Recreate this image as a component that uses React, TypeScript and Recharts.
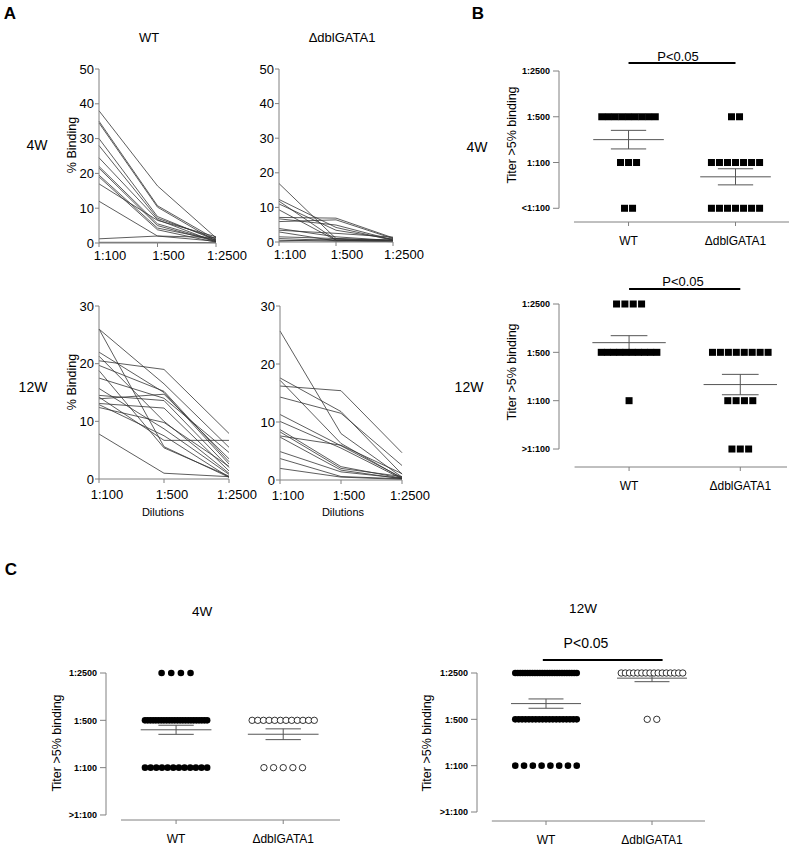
import React from "react";
import {
  LineChart,
  Line,
  XAxis,
  YAxis,
  ScatterChart,
  Scatter,
  ReferenceLine,
} from "recharts";

const FONT = "'Liberation Sans', Arial, sans-serif";
const AXIS = "#808080";

// Panel A: % binding of each mouse at the three dilutions
const dilutions = ["1:100", "1:500", "1:2500"];
const wt4w = [
  [38, 16.4, 1.5], [35, 10.7, 1.0], [34.5, 10.3, 0.5], [30, 7.6, 0.8],
  [28, 7.1, 1.2], [24.5, 6.7, 0.3], [22, 5.5, 0.6], [21.5, 5.0, 0.4],
  [19.5, 4.3, 0.9], [19, 3.8, 0.2], [17, 6.5, 1.8], [12, 2.0, 0.5],
  [1.2, 2.0, 1.6], [0.2, 0.2, 0.1],
];
const dbl4w = [
  [16.9, 1.0, 0.3], [12.3, 4.2, 0.5], [11.8, 0.6, 0.2], [11.0, 3.4, 0.8],
  [9.3, 0.5, 0.1], [7.1, 6.9, 1.2], [6.7, 4.9, 0.6], [5.9, 6.4, 1.0],
  [3.9, 1.5, 0.4], [3.4, 2.5, 1.4], [2.9, 0.3, 0.2], [1.5, 1.0, 0.5],
  [1.0, 0.4, 0.1], [0.5, 0.2, 0.9], [0.2, 0.8, 0.3],
];
const wt12w = [
  [26, 16.5, 5.5], [26, 5.6, 0.3], [22, 15, 2.6], [21.3, 10, 1],
  [20.5, 19, 7.9], [19.7, 15.2, 3], [18.8, 5.4, 0.5], [17.5, 14, 4.6],
  [15.7, 8.7, 0.8], [14.5, 13.6, 2], [14.2, 6.7, 6.7], [13.9, 14.7, 3.5],
  [13.1, 12.3, 1.4], [12.9, 7.5, 0.3], [12.4, 9.8, 2.2], [7.8, 1, 0.4],
];
const dbl12w = [
  [25.7, 8, 0.5], [17.6, 11.8, 1], [17.2, 6.3, 0.3], [16.2, 15.4, 4.7],
  [14.3, 11.5, 2.5], [11.3, 5.9, 0.4], [10.1, 5.5, 0.2], [8.7, 2.3, 0.3],
  [8.3, 2.0, 0.6], [7.6, 6.0, 1.1], [7.4, 1.7, 0.2], [4.9, 1.4, 0.3],
  [3.7, 0.6, 0.2], [2.0, 0.5, 0.1],
];

// Panels B, C: number of mice at each titer level (lowest .. 1:2500)
const groups = ["WT", "\u0394dblGATA1"];
const titerB4 = ["<1:100", "1:100", "1:500", "1:2500"];
const titerOther = [">1:100", "1:100", "1:500", "1:2500"];
const bWT4 = [2, 3, 9, 0];
const bDbl4 = [7, 7, 2, 0];
const bWT12 = [0, 1, 10, 4];
const bDbl12 = [3, 4, 8, 0];
const cWT4 = [0, 12, 24, 4];
const cDbl4 = [0, 5, 12, 0];
const cWT12 = [0, 8, 19, 26];
const cDbl12 = [0, 0, 2, 16];

const Txt = ({ x, y, size, bold, rotate, children }: any) => (
  <div
    style={{
      position: "absolute",
      left: x,
      top: y,
      transform: `translate(-50%, -50%)${rotate ? " rotate(-90deg)" : ""}`,
      fontSize: size,
      fontWeight: bold ? 700 : 400,
      fontFamily: FONT,
      whiteSpace: "nowrap",
      lineHeight: 1,
      color: "#000",
    }}
  >
    {children}
  </div>
);

function BindingPanel({ left, top, w, h, yMax, series, tickMargin, dx }: any) {
  const data = dilutions.map((_, i) => {
    const row: any = { i };
    series.forEach((s: number[], j: number) => (row["m" + j] = s[i]));
    return row;
  });
  const yTicks: number[] = [];
  for (let v = 0; v <= yMax; v += 10) yTicks.push(v);
  const ML = 40, MT = 10, MR = 40, XH = 30;
  return (
    <div style={{ position: "absolute", left: left - ML, top: top - MT }}>
      <LineChart
        width={ML + w + MR}
        height={MT + h + XH}
        data={data}
        margin={{ top: MT, right: MR, bottom: 0, left: 0 }}
      >
        <XAxis
          dataKey="i"
          type="number"
          domain={[0, 2]}
          ticks={[0, 1, 2]}
          interval={0}
          tickFormatter={(v) => dilutions[v]}
          height={XH}
          stroke={AXIS}
          tickSize={4}
          tickMargin={tickMargin}
          tick={{ fill: "#000", fontSize: 13, fontFamily: FONT, dx }}
        />
        <YAxis
          type="number"
          domain={[0, yMax]}
          ticks={yTicks}
          interval={0}
          width={ML}
          stroke={AXIS}
          tickSize={4}
          tickMargin={1}
          tick={{ fill: "#000", fontSize: 13, fontFamily: FONT }}
        />
        {series.map((_: any, j: number) => (
          <Line
            key={j}
            dataKey={"m" + j}
            type="linear"
            stroke="#333"
            strokeWidth={0.8}
            dot={false}
            isAnimationActive={false}
          />
        ))}
      </LineChart>
    </div>
  );
}

const square = (p: any) => (
  <rect x={p.cx - 3.5} y={p.cy - 3.5} width={7} height={7} fill="#000" />
);
const dot = (p: any) => <circle cx={p.cx} cy={p.cy} r={3.3} fill="#000" />;
const ring = (p: any) => (
  <circle cx={p.cx} cy={p.cy} r={3.2} fill="#fff" stroke="#000" strokeWidth={0.8} />
);

function spread(counts: number[], gi: number, step: number, maxSpan: number) {
  const pts: { x: number; y: number }[] = [];
  counts.forEach((n, level) => {
    const s = n > 1 ? Math.min(step, maxSpan / (n - 1)) : 0;
    for (let k = 0; k < n; k++) pts.push({ x: gi + (k - (n - 1) / 2) * s, y: level });
  });
  return pts;
}

function meanSem(counts: number[]) {
  const vals: number[] = [];
  counts.forEach((n, level) => {
    for (let k = 0; k < n; k++) vals.push(level);
  });
  const m = vals.reduce((a, b) => a + b, 0) / vals.length;
  const v = vals.reduce((a, b) => a + (b - m) * (b - m), 0) / (vals.length - 1);
  return { m, sem: Math.sqrt(v) / Math.sqrt(vals.length) };
}

function DotPlot({
  left, top, w, h, xMin, xMax, yMin, sets, shapes, labels, step, maxSpan, pBar,
}: any) {
  const ML = 60, MT = 30, MR = 12, XH = 35;
  const seg = (x1: number, y1: number, x2: number, y2: number, key: string, stroke = "#555", sw = 1) => (
    <ReferenceLine
      key={key}
      segment={[{ x: x1, y: y1 }, { x: x2, y: y2 }]}
      stroke={stroke}
      strokeWidth={sw}
      ifOverflow="visible"
    />
  );
  return (
    <div style={{ position: "absolute", left: left - ML, top: top - MT }}>
      <ScatterChart
        width={ML + w + MR}
        height={MT + h + XH}
        margin={{ top: MT, right: MR, bottom: 0, left: 0 }}
      >
        <XAxis
          dataKey="x"
          type="number"
          domain={[xMin, xMax]}
          ticks={[0, 1]}
          interval={0}
          tickFormatter={(v) => groups[v]}
          height={XH}
          axisLine={false}
          stroke={AXIS}
          tickSize={4}
          tickMargin={10}
          tick={{ fill: "#000", fontSize: 12, fontFamily: FONT }}
        />
        <YAxis
          dataKey="y"
          type="number"
          domain={[yMin, 3]}
          ticks={[0, 1, 2, 3]}
          interval={0}
          tickFormatter={(v) => labels[v]}
          width={ML}
          axisLine={false}
          stroke={AXIS}
          tickSize={6}
          tickMargin={3}
          tick={{ fill: "#000", fontSize: 9, fontWeight: 700, fontFamily: FONT }}
        />
        {seg(xMin, 0, xMin, 3, "yaxis", AXIS)}
        {seg(xMin + 0.14, yMin, xMax, yMin, "xaxis", AXIS)}
        {sets.map((counts: number[], gi: number) => (
          <Scatter
            key={gi}
            data={spread(counts, gi, step, maxSpan)}
            shape={shapes[gi]}
            isAnimationActive={false}
          />
        ))}
        {sets.map((counts: number[], gi: number) => {
          const { m, sem } = meanSem(counts);
          return [
            seg(gi - 0.33, m, gi + 0.33, m, "m" + gi),
            seg(gi - 0.165, m + sem, gi + 0.165, m + sem, "t" + gi),
            seg(gi - 0.165, m - sem, gi + 0.165, m - sem, "b" + gi),
            seg(gi, m - sem, gi, m + sem, "v" + gi),
          ];
        })}
        {pBar && seg(pBar[0], pBar[2], pBar[1], pBar[2], "p", "#000", 2)}
      </ScatterChart>
    </div>
  );
}

export default function App() {
  return (
    <div
      style={{
        position: "absolute",
        left: 0,
        top: 0,
        width: 800,
        height: 849,
        background: "#fff",
        fontFamily: FONT,
      }}
    >
      {/* Panel A */}
      <Txt x={10} y={13} size={17} bold>A</Txt>
      <Txt x={149} y={37} size={13}>WT</Txt>
      <Txt x={342} y={37} size={13}>{"\u0394dblGATA1"}</Txt>
      <Txt x={37} y={145} size={14}>4W</Txt>
      <Txt x={33} y={387} size={14}>12W</Txt>
      <Txt x={72} y={145} size={12.5} rotate>% Binding</Txt>
      <Txt x={72} y={382} size={12.5} rotate>% Binding</Txt>
      <Txt x={163} y={512} size={11}>Dilutions</Txt>
      <Txt x={343} y={512} size={11}>Dilutions</Txt>
      <BindingPanel left={99} top={69} w={117} h={174} yMax={50} series={wt4w} tickMargin={4} dx={11} />
      <BindingPanel left={279} top={69} w={114} h={173} yMax={50} series={dbl4w} tickMargin={4} dx={11} />
      <BindingPanel left={99} top={306} w={130} h={173} yMax={30} series={wt12w} tickMargin={7} dx={8} />
      <BindingPanel left={280} top={306} w={122} h={174} yMax={30} series={dbl12w} tickMargin={7} dx={8} />

      {/* Panel B */}
      <Txt x={478} y={13} size={17} bold>B</Txt>
      <Txt x={477} y={147} size={14}>4W</Txt>
      <Txt x={469} y={387} size={14}>12W</Txt>
      <Txt x={512} y={135} size={12.5} rotate>Titer &gt;5% binding</Txt>
      <Txt x={512} y={372} size={12.5} rotate>Titer &gt;5% binding</Txt>
      <Txt x={678} y={56} size={13}>P&lt;0.05</Txt>
      <Txt x={683} y={281} size={13}>P&lt;0.05</Txt>
      <DotPlot
        left={559} top={71} w={230} h={151} xMin={-0.65} xMax={1.5} yMin={-0.3}
        sets={[bWT4, bDbl4]} shapes={[square, square]} labels={titerB4}
        step={0.075} maxSpan={0.5} pBar={[0, 1, 3.175]}
      />
      <DotPlot
        left={559} top={304} w={228} h={163} xMin={-0.63} xMax={1.42} yMin={-0.372}
        sets={[bWT12, bDbl12]} shapes={[square, square]} labels={titerOther}
        step={0.075} maxSpan={0.5} pBar={[0, 1, 3.31]}
      />

      {/* Panel C */}
      <Txt x={11} y={569} size={17} bold>C</Txt>
      <Txt x={202} y={612} size={13.5}>4W</Txt>
      <Txt x={583} y={609} size={13.5}>12W</Txt>
      <Txt x={57} y={743} size={12.5} rotate>Titer &gt;5% binding</Txt>
      <Txt x={427} y={743} size={12.5} rotate>Titer &gt;5% binding</Txt>
      <Txt x={586} y={643} size={14}>P&lt;0.05</Txt>
      <DotPlot
        left={106} top={673} w={234} h={147} xMin={-0.654} xMax={1.53} yMin={-0.106}
        sets={[cWT4, cDbl4]} shapes={[dot, ring]} labels={titerOther}
        step={0.09} maxSpan={0.58}
      />
      <DotPlot
        left={477} top={673} w={228} h={148} xMin={-0.651} xMax={1.5} yMin={-0.194}
        sets={[cWT12, cDbl12]} shapes={[dot, ring]} labels={titerOther}
        step={0.09} maxSpan={0.58} pBar={[-0.03, 1.1, 3.28]}
      />
    </div>
  );
}
